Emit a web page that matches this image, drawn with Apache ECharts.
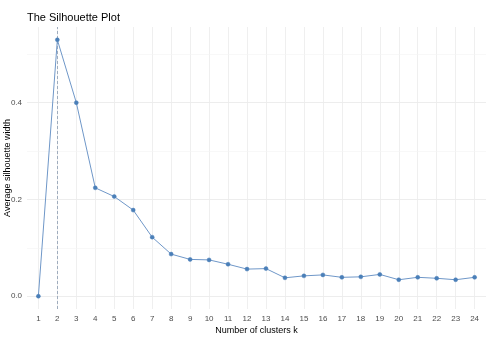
<!DOCTYPE html>
<html>
<head>
<meta charset="utf-8">
<script src="https://cdn.jsdelivr.net/npm/echarts@6/dist/echarts.min.js"></script>
<style>html,body{margin:0;padding:0;background:#fff}#c{width:490px;height:356px}</style>
</head>
<body>
<div id="c"></div>
<script>
var clusters = [1,2,3,4,5,6,7,8,9,10,11,12,13,14,15,16,17,18,19,20,21,22,23,24];
var silhouette = [0,0.530,0.400,0.224,0.206,0.178,0.122,0.087,0.076,0.075,0.066,0.056,0.057,0.038,0.042,0.044,0.039,0.040,0.045,0.034,0.039,0.037,0.034,0.039];
var yTicks = [0, 0.2, 0.4];
var yGrid = [0, 0.1, 0.2, 0.3, 0.4, 0.5];
var optimalK = 2;

var chart = echarts.init(document.getElementById('c'), null, {renderer:'canvas'});
var font = 'Liberation Sans, Arial, sans-serif';
var gridLines = [];
clusters.forEach(function(k){ gridLines.push({xAxis:k, lineStyle:{color:'#ebebeb', width:0.8, type:'solid'}}); });
yGrid.forEach(function(v,i){ gridLines.push({yAxis:v, lineStyle:{color: i%2===0 ? '#ebebeb' : '#f4f4f4', width: i%2===0?0.9:0.6, type:'solid'}}); });

chart.setOption({
  animation:false,
  backgroundColor:'#fff',
  title:{text:'The Silhouette Plot', left:27, top:12, padding:0, textStyle:{fontFamily:font, fontSize:11, fontWeight:'normal', color:'#000'}},
  grid:{left:27, right:4, top:27, bottom:47, containLabel:false, outerBoundsMode:'none'},
  xAxis:{type:'value', min:0.4, max:24.6,
    name:'Number of clusters k', nameLocation:'middle', nameGap:17, nameMoveOverlap:false,
    nameTextStyle:{fontFamily:font, fontSize:9, color:'#000'},
    axisLine:{show:false}, axisTick:{show:false}, splitLine:{show:false},
    axisLabel:{customValues:clusters, fontFamily:font, fontSize:8, color:'#4d4d4d', margin:6}},
  yAxis:{type:'value', min:-0.0265, max:0.5565,
    name:'Average silhouette width', nameLocation:'middle', nameGap:15, nameRotate:90, nameMoveOverlap:false,
    nameTextStyle:{fontFamily:font, fontSize:9, color:'#000'},
    axisLine:{show:false}, axisTick:{show:false}, splitLine:{show:false},
    axisLabel:{customValues:yTicks, fontFamily:font, fontSize:8, color:'#4d4d4d', margin:5,
      formatter:function(v){return v.toFixed(1);}}},
  series:[
    {type:'line', data:[], silent:true, z:0, zlevel:0,
     markLine:{silent:true, symbol:'none', label:{show:false}, animation:false, data:gridLines}},
    {type:'line', data:clusters.map(function(k,i){return [k, silhouette[i]];}),
     symbol:'circle', symbolSize:4, showSymbol:true, zlevel:1,
     lineStyle:{color:'#6f97c8', width:1}, itemStyle:{color:'#4a7fb8', borderColor:'#4a7fb8', borderWidth:0.5}, z:3,
     markLine:{silent:true, symbol:'none', label:{show:false}, animation:false,
       data:[{xAxis:optimalK, lineStyle:{color:'#8a9bb0', width:0.8, type:[3,2]}}]}}
  ]
});
</script>
</body>
</html>
